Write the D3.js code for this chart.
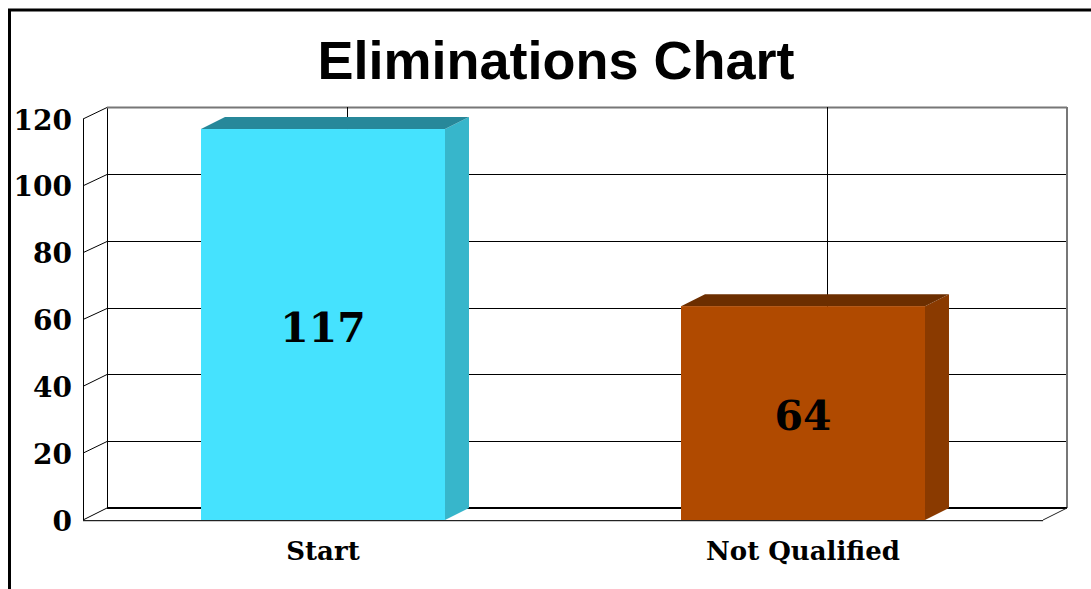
<!DOCTYPE html>
<html><head><meta charset="utf-8">
<script src="https://cdn.jsdelivr.net/npm/d3@7/dist/d3.min.js"></script>
<style>html,body{margin:0;padding:0;background:#fff;overflow:hidden}</style>
</head><body>
<svg id="c" width="1091" height="589"></svg>
<script>
const categories = ["Start", "Not Qualified"];
const values = [117, 64];
const yTicks = [0, 20, 40, 60, 80, 100, 120];
const frontColors = ["#45E2FE", "#B04A00"];
const topColors = ["#27889A", "#6C2E00"];
const sideColors = ["#37B6CB", "#8A3A00"];
const titleText = "Eliminations Chart";

const svg = d3.select("#c");
const DX = 24, DY = -12;
const x = d3.scaleBand().domain(categories).range([83, 1043]).paddingInner(0.4917).paddingOuter(0.4917/2);
const y = d3.scaleLinear().domain([0, 120]).range([520, 119]);

// outer frame
svg.append("rect").attr("x", 9.5).attr("y", 10).attr("width", 1200).attr("height", 700)
  .attr("fill", "none").attr("stroke", "#000").attr("stroke-width", 3);

// title
svg.append("text").attr("x", 556).attr("y", 79).attr("text-anchor", "middle")
  .attr("font-family", "Liberation Sans, Arial, sans-serif").attr("font-weight", "bold")
  .attr("font-size", 54).text(titleText);

const x0 = x.range()[0], x1 = x.range()[1];
const g = svg.append("g");
const r = v => Math.round(v) + 0.5;

// left wall vertical lines
g.append("line").attr("x1", r(x0)).attr("x2", r(x0)).attr("y1", y(120)).attr("y2", y(0)).attr("stroke", "#000");
g.append("line").attr("x1", r(x0 + DX)).attr("x2", r(x0 + DX)).attr("y1", y(120) + DY).attr("y2", y(0) + DY).attr("stroke", "#000");

// horizontal gridlines (left wall diagonal + back wall)
yTicks.forEach(v => {
  if (v === 0) return;
  g.append("line").attr("x1", x0).attr("y1", y(v)).attr("x2", x0 + DX).attr("y2", r(y(v) + DY)).attr("stroke", "#000");
  g.append("line").attr("x1", x0 + DX).attr("y1", r(y(v) + DY)).attr("x2", x1 + DX).attr("y2", r(y(v) + DY))
    .attr("stroke", v === 120 ? "#777" : "#000").attr("stroke-width", v === 120 ? 2 : 1);
});
// right edge of back wall
g.append("line").attr("x1", x1 + DX).attr("x2", x1 + DX).attr("y1", y(120) + DY).attr("y2", y(0) + DY)
  .attr("stroke", "#777").attr("stroke-width", 2);
// vertical gridlines at category centers on back wall
categories.forEach(c => {
  const cx = r(x(c) + x.bandwidth() / 2 + DX);
  g.append("line").attr("x1", cx).attr("x2", cx).attr("y1", y(120) + DY).attr("y2", y(0) + DY).attr("stroke", "#000");
});
// floor
g.append("line").attr("x1", x0 + DX).attr("x2", x1 + DX).attr("y1", Math.round(y(0) + DY)).attr("y2", Math.round(y(0) + DY)).attr("stroke", "#000").attr("stroke-width", 2);
g.append("line").attr("x1", x0).attr("y1", y(0)).attr("x2", x0 + DX).attr("y2", y(0) + DY).attr("stroke", "#000");
g.append("line").attr("x1", x1).attr("y1", y(0)).attr("x2", x1 + DX).attr("y2", y(0) + DY).attr("stroke", "#222");
g.append("line").attr("x1", x0).attr("x2", x1).attr("y1", r(y(0))).attr("y2", r(y(0))).attr("stroke", "#222");
g.append("line").attr("x1", x0).attr("x2", x1).attr("y1", r(y(0)) + 1).attr("y2", r(y(0)) + 1).attr("stroke", "#ccc");

// bars
const bars = svg.append("g").selectAll("g").data(categories).join("g");
bars.each(function(c, i) {
  const b = d3.select(this);
  const bx = x(c), bw = x.bandwidth(), top = y(values[i]), bot = y(0);
  b.append("polygon").attr("fill", sideColors[i])
    .attr("points", [[bx + bw, top], [bx + bw + DX, top + DY], [bx + bw + DX, bot + DY], [bx + bw, bot]].join(" "));
  b.append("polygon").attr("fill", topColors[i])
    .attr("points", [[bx, top], [bx + DX, top + DY], [bx + bw + DX, top + DY], [bx + bw, top]].join(" "));
  b.append("rect").attr("x", bx).attr("y", top).attr("width", bw).attr("height", bot - top).attr("fill", frontColors[i]);
  b.append("text").attr("x", bx + bw / 2).attr("y", (top + bot) / 2 + 17).attr("text-anchor", "middle")
    .attr("font-family", "DejaVu Serif, serif").attr("font-weight", "bold").attr("font-size", 41)
    .text(values[i]);
});

// y axis labels
const yAxis = d3.axisLeft(y).tickValues(yTicks).tickSize(0).tickPadding(11);
const ya = svg.append("g").attr("transform", `translate(${x0},0)`).call(yAxis);
ya.select(".domain").remove();
ya.selectAll("text").attr("font-family", "DejaVu Serif, serif").attr("font-weight", "bold")
  .attr("font-size", 28).attr("fill", "#000").attr("dy", "0.36em");

// x axis labels
const xAxis = d3.axisBottom(x).tickSize(0).tickPadding(22);
const xa = svg.append("g").attr("transform", `translate(0,${y(0)})`).call(xAxis);
xa.select(".domain").remove();
xa.selectAll("text").attr("font-family", "DejaVu Serif, serif").attr("font-weight", "bold")
  .attr("font-size", 26).attr("fill", "#000");
</script>
</body></html>
